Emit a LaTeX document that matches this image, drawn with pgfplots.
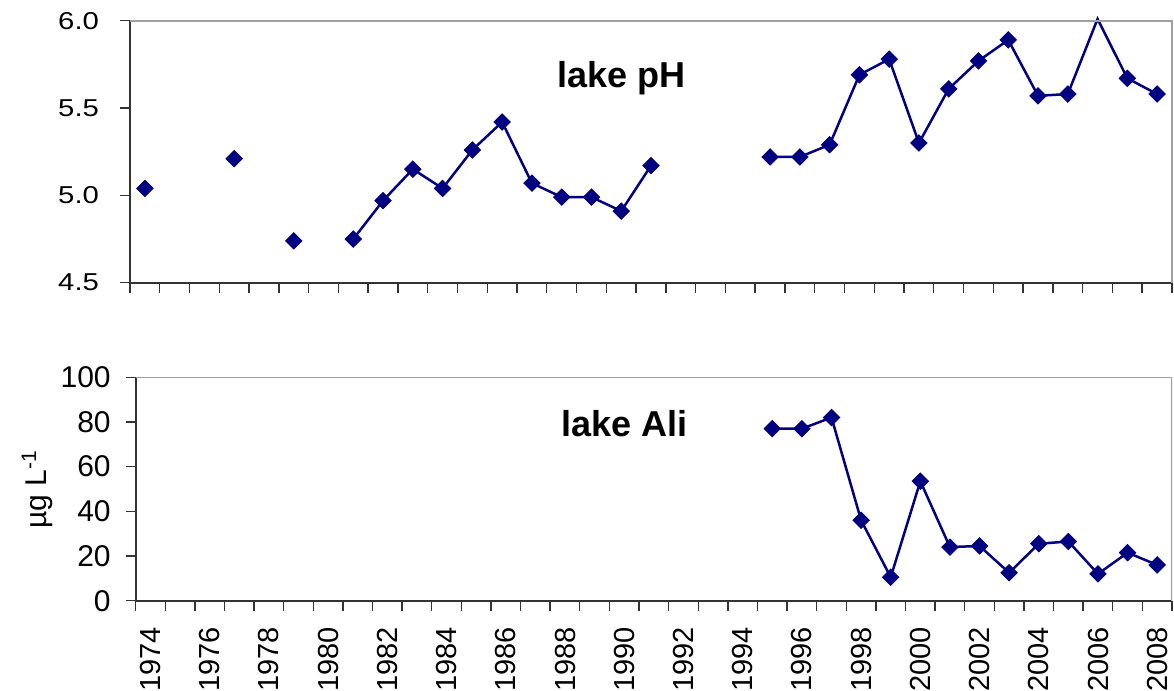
\documentclass[border=0pt]{standalone}
\usepackage{pgfplots}
\pgfplotsset{compat=1.18}
\usepackage{pgfplotstable}
\usepackage{fontspec}
\setmainfont{Liberation Sans}
\newfontfamily\widefont[FakeStretch=1.2]{Liberation Sans}
\definecolor{navy}{HTML}{000080}
\definecolor{axdark}{HTML}{333333}
\definecolor{axgray}{HTML}{A0A0A0}

% lake pH, nan = no sample
\pgfplotstableread{
year ph
1974 5.04
1975 nan
1976 nan
1977 5.21
1978 nan
1979 4.74
1980 nan
1981 4.75
1982 4.97
1983 5.15
1984 5.04
1985 5.26
1986 5.42
1987 5.07
1988 4.99
1989 4.99
1990 4.91
1991 5.17
1992 nan
1993 nan
1994 nan
1995 5.22
1996 5.22
1997 5.29
1998 5.69
1999 5.78
2000 5.30
2001 5.61
2002 5.77
2003 5.89
2004 5.57
2005 5.58
2006 6.01
2007 5.67
2008 5.58
}\phdata

\pgfplotstableread{
year ali
1995 77
1996 77
1997 82
1998 36
1999 10.5
2000 53.5
2001 24
2002 24.5
2003 12.5
2004 25.5
2005 26.5
2006 12
2007 21.5
2008 16
}\alidata

\pgfplotsset{
  lakestyle/.style={
    scale only axis,
    enlargelimits=false,
    xmin=1973.5, xmax=2008.5,
    axis x line*=bottom,
    axis y line*=left,
    axis line style={-, draw=axdark, line width=0.9pt},
    tick align=outside,
    tick style={axdark, line width=0.7pt},
    major tick length=5pt,
    minor tick length=5pt,
    unbounded coords=jump,
    /pgf/number format/assume math mode=true,
  },
  lakeline/.style={navy, line width=1.25pt, mark=none},
  lakemarks/.style={only marks, mark=square*, mark size=2.9pt,
    mark options={rotate=45, fill=navy, draw=navy}},
}

\begin{document}
\begin{tikzpicture}
\path[use as bounding box] (0,0) rectangle (587pt,-345.5pt);

% ---- top: lake pH
\begin{axis}[
    lakestyle,
    at={(65pt,-10.35pt)}, anchor=north west,
    width=521pt, height=131pt,
    ymin=4.5, ymax=6.0,
    ytick={4.5,5.0,5.5,6.0},
    xtick={1973.5,1974.5,...,2008.5},
    xticklabels={},
    yticklabel shift=7pt,
    yticklabel style={font=\widefont\fontsize{12.2}{14}\selectfont,
      /pgf/number format/.cd, fixed, fixed zerofill, precision=1},
    clip=false,
]
\addplot[lakeline] table[x=year, y=ph] {\phdata};
\addplot[lakemarks, restrict y to domain=4.5:6.0] table[x=year, y=ph] {\phdata};
\draw[axgray, line width=0.9pt] (rel axis cs:0,1) -| (rel axis cs:1,0);
\node[anchor=base, font=\bfseries\fontsize{18}{20}\selectfont] at (axis cs:1990,5.62) {lake pH};
\end{axis}

% ---- bottom: lake Ali
\begin{axis}[
    lakestyle,
    at={(67.85pt,-188.65pt)}, anchor=north west,
    width=518.15pt, height=111.7pt,
    ymin=0, ymax=100,
    ytick={0,20,...,100},
    xtick={1974,1976,...,2008},
    major x tick style={draw=none},
    minor xtick={1973.5,1974.5,...,2008.5},
    xticklabel shift=8pt,
    yticklabel shift=4pt,
    xticklabel style={rotate=90, anchor=east, inner sep=0pt,
      font=\fontsize{14.5}{16}\selectfont,
      /pgf/number format/1000 sep={}},
    yticklabel style={font=\fontsize{15}{17}\selectfont},
    ylabel={µg L\textsuperscript{-1}},
    ylabel style={at={(axis description cs:-0.095,0.5)}, anchor=center,
      font=\fontsize{15}{17}\selectfont},
]
\addplot[lakeline] table[x=year, y=ali] {\alidata};
\addplot[lakemarks] table[x=year, y=ali] {\alidata};
\draw[axgray, line width=0.9pt] (rel axis cs:0,1) -| (rel axis cs:1,0);
\node[anchor=base, font=\bfseries\fontsize{18}{20}\selectfont] at (axis cs:1990,73.7) {lake Ali};
\end{axis}
\end{tikzpicture}
\end{document}
